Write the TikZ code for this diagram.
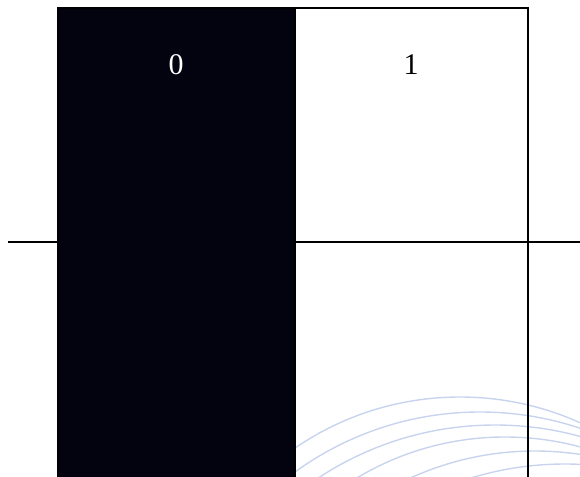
\documentclass[tikz,border=0pt]{standalone}
\usepackage{tikz}
\usepackage{fontspec}
\setmainfont{Liberation Serif}
\definecolor{darkfill}{RGB}{3,3,15}
\definecolor{arcblue}{RGB}{200,212,238}
\begin{document}
\begin{tikzpicture}[x=1pt,y=-1pt,
  arcline/.style={draw=arcblue,line width=1.4pt},
  cell/.style={draw=black,line width=2pt,minimum height=480pt,inner sep=0pt,outer sep=0pt,anchor=north west},
  digit/.style={font=\fontsize{30}{36}\selectfont}]
\useasboundingbox (0,0) rectangle (580,476);
\begin{scope}
\clip (0,0) rectangle (580,476);
\draw[arcline] (460,689) circle[radius=292pt];
\draw[arcline] (480,727) circle[radius=315pt];
\draw[arcline] (495,746) circle[radius=321pt];
\draw[arcline] (505,725) circle[radius=288pt];
\draw[arcline] (535,751) circle[radius=300pt];
\draw[arcline] (565,785) circle[radius=321pt];
\node[cell,fill=darkfill,minimum width=237.5pt] (zero) at (57.5,7.7) {};
\node[cell,minimum width=232.5pt] (one) at (295,7.7) {};
\end{scope}
\coordinate (lstart) at (8,242);
\coordinate (lend) at (580,242);
\draw[line width=2pt] (lstart) -- (zero.west |- lstart);
\draw[line width=2pt] (one.west |- lstart) -- (lend);
\node[digit,text=white] (t0) at (176,65) {0};
\node[digit,text=black] (t1) at (411,65) {1};
\end{tikzpicture}
\end{document}
